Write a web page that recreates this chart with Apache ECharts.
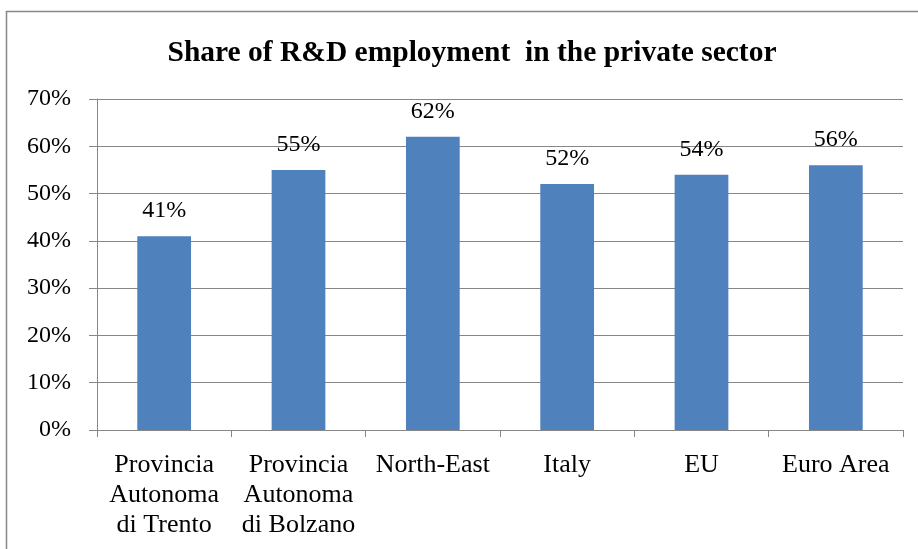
<!DOCTYPE html>
<html>
<head>
<meta charset="utf-8">
<script src="https://cdn.jsdelivr.net/npm/echarts@6/dist/echarts.min.js"></script>
<style>
  html, body { margin: 0; padding: 0; background: #ffffff; }
  #chart { width: 918px; height: 549px; }
</style>
</head>
<body>
<div id="chart"></div>
<script>
// Share of R&D employment in the private sector, by area (%)
const categories = [
  'Provincia\nAutonoma\ndi Trento',
  'Provincia\nAutonoma\ndi Bolzano',
  'North-East',
  'Italy',
  'EU',
  'Euro Area'
];
const shareValues = [41, 55, 62, 52, 54, 56];
const yTicks = [0, 10, 20, 30, 40, 50, 60, 70];

const serif = '"Liberation Serif", "Times New Roman", serif';
const gray = '#878787';

const chart = echarts.init(document.getElementById('chart'), null, { renderer: 'canvas' });

chart.setOption({
  backgroundColor: '#ffffff',
  animation: false,
  graphic: [{
    type: 'rect',
    shape: { x: 6.5, y: 11.5, width: 1000, height: 1000 },
    style: { fill: 'none', stroke: gray, lineWidth: 1.5 },
    silent: true
  }],
  title: {
    text: 'Share of R&D employment  in the private sector',
    left: 467,
    textAlign: 'center',
    top: 33,
    textStyle: { fontFamily: serif, fontSize: 29.5, fontWeight: 'bold', color: '#000000' }
  },
  grid: { left: 97, right: 15, top: 99, bottom: 119, containLabel: false },
  xAxis: {
    type: 'category',
    data: categories,
    axisLine: { show: true, lineStyle: { color: gray, width: 1 } },
    axisTick: { show: true, length: 7, alignWithLabel: false, lineStyle: { color: gray } },
    axisLabel: {
      interval: 0,
      margin: 20,
      fontFamily: serif,
      fontSize: 26,
      lineHeight: 30,
      color: '#000000'
    },
    splitLine: { show: false }
  },
  yAxis: {
    type: 'value',
    min: yTicks[0],
    max: yTicks[yTicks.length - 1],
    interval: 10,
    axisLine: { show: true, lineStyle: { color: gray, width: 1 } },
    axisTick: { show: true, length: 8, lineStyle: { color: gray } },
    axisLabel: {
      margin: 26,
      fontFamily: serif,
      fontSize: 24,
      color: '#000000',
      formatter: v => v + '%'
    },
    splitLine: { show: true, lineStyle: { color: gray, width: 1 } }
  },
  series: [{
    type: 'bar',
    data: shareValues,
    barWidth: '40%',
    itemStyle: { color: '#4F81BD' },
    label: {
      show: true,
      position: 'top',
      distance: 13,
      fontFamily: serif,
      fontSize: 24,
      color: '#000000',
      formatter: p => p.value + '%'
    }
  }]
});
</script>
</body>
</html>
